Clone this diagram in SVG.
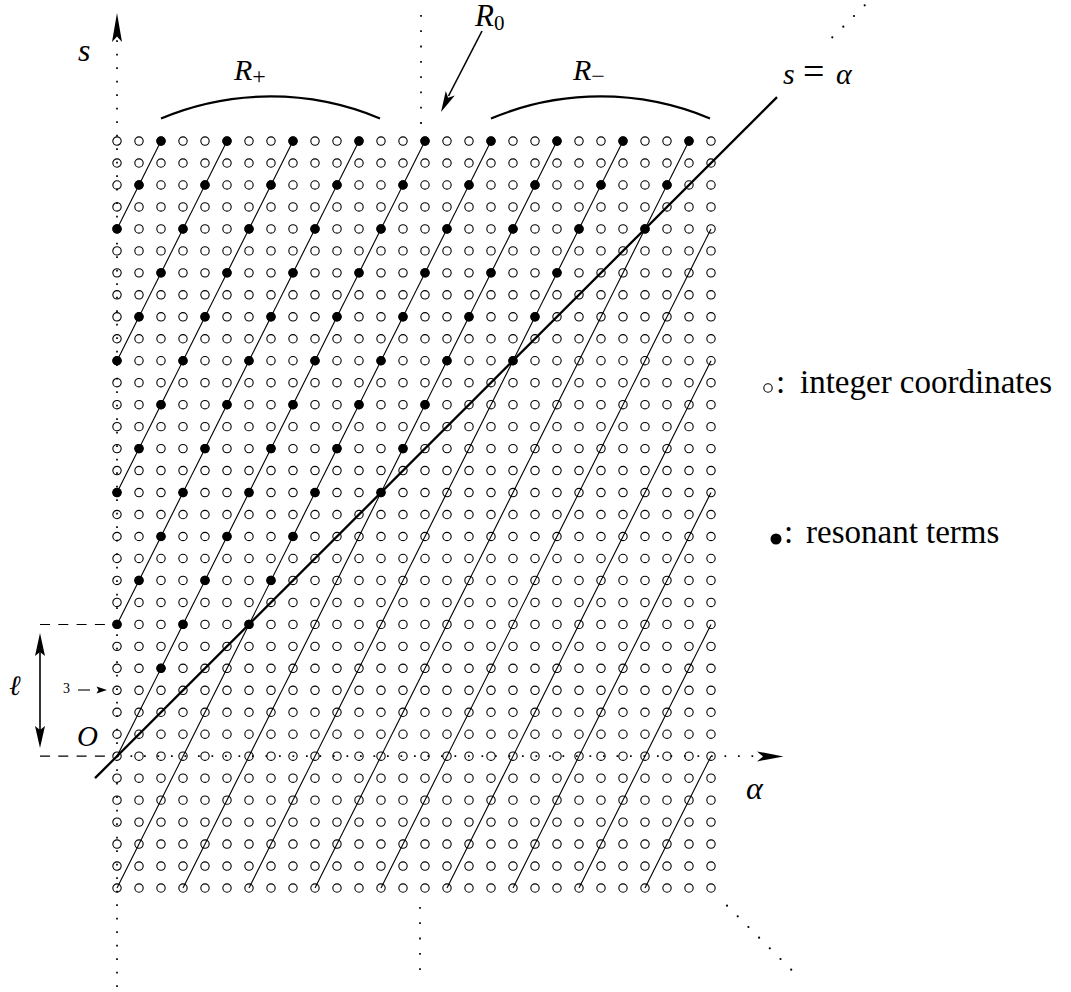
<svg xmlns="http://www.w3.org/2000/svg" xmlns:xlink="http://www.w3.org/1999/xlink" width="1071" height="992" viewBox="0 0 1071 992">
<style>
.c{fill:none;stroke:#000;stroke-width:1.1;vector-effect:non-scaling-stroke}
.f{fill:#000;stroke:none}
.thin{fill:none;stroke:#000;stroke-width:1.1;vector-effect:non-scaling-stroke}
.thick{fill:none;stroke:#000;stroke-width:2.3;vector-effect:non-scaling-stroke}
.dot{fill:none;stroke:#000;stroke-width:1.7;stroke-dasharray:1.7 11.8}
.dash{fill:none;stroke:#000;stroke-width:1.2;stroke-dasharray:10 8.3}
.line{fill:none;stroke:#000;stroke-width:1.6}
.arc{fill:none;stroke:#000;stroke-width:2.2}
.ah{fill:#000;stroke:none}
text{font-family:"Liberation Serif","DejaVu Serif",serif;fill:#000}
.i{font-style:italic}
</style>
<defs>
<g id="row">
<circle class="c" cx="0" cy="0" r="0.19"/><circle class="c" cx="1" cy="0" r="0.19"/><circle class="c" cx="2" cy="0" r="0.19"/><circle class="c" cx="3" cy="0" r="0.19"/><circle class="c" cx="4" cy="0" r="0.19"/><circle class="c" cx="5" cy="0" r="0.19"/><circle class="c" cx="6" cy="0" r="0.19"/><circle class="c" cx="7" cy="0" r="0.19"/><circle class="c" cx="8" cy="0" r="0.19"/><circle class="c" cx="9" cy="0" r="0.19"/><circle class="c" cx="10" cy="0" r="0.19"/><circle class="c" cx="11" cy="0" r="0.19"/><circle class="c" cx="12" cy="0" r="0.19"/><circle class="c" cx="13" cy="0" r="0.19"/><circle class="c" cx="14" cy="0" r="0.19"/><circle class="c" cx="15" cy="0" r="0.19"/><circle class="c" cx="16" cy="0" r="0.19"/><circle class="c" cx="17" cy="0" r="0.19"/><circle class="c" cx="18" cy="0" r="0.19"/><circle class="c" cx="19" cy="0" r="0.19"/><circle class="c" cx="20" cy="0" r="0.19"/><circle class="c" cx="21" cy="0" r="0.19"/><circle class="c" cx="22" cy="0" r="0.19"/><circle class="c" cx="23" cy="0" r="0.19"/><circle class="c" cx="24" cy="0" r="0.19"/><circle class="c" cx="25" cy="0" r="0.19"/><circle class="c" cx="26" cy="0" r="0.19"/><circle class="c" cx="27" cy="0" r="0.19"/>
</g>
</defs>

<g id="axes">
<line class="dot" x1="117" y1="987" x2="117" y2="40"/>
<path class="ah" d="M117,13 L122,42 L117,36.5 L112,42 Z"/>
<line class="dot" x1="117" y1="756.2" x2="760" y2="756.2"/>
<path class="ah" d="M783.5,756.4 L757,751.4 L763,756.4 L757,761.4 Z"/>
</g>

<g id="grid" transform="translate(117 756.2) scale(22 -21.97)">
<use xlink:href="#row" y="-6"/><use xlink:href="#row" y="-5"/><use xlink:href="#row" y="-4"/><use xlink:href="#row" y="-3"/><use xlink:href="#row" y="-2"/><use xlink:href="#row" y="-1"/><use xlink:href="#row" y="0"/><use xlink:href="#row" y="1"/><use xlink:href="#row" y="2"/><use xlink:href="#row" y="3"/><use xlink:href="#row" y="4"/><use xlink:href="#row" y="5"/><use xlink:href="#row" y="6"/><use xlink:href="#row" y="7"/><use xlink:href="#row" y="8"/><use xlink:href="#row" y="9"/><use xlink:href="#row" y="10"/><use xlink:href="#row" y="11"/><use xlink:href="#row" y="12"/><use xlink:href="#row" y="13"/><use xlink:href="#row" y="14"/><use xlink:href="#row" y="15"/><use xlink:href="#row" y="16"/><use xlink:href="#row" y="17"/><use xlink:href="#row" y="18"/><use xlink:href="#row" y="19"/><use xlink:href="#row" y="20"/><use xlink:href="#row" y="21"/><use xlink:href="#row" y="22"/><use xlink:href="#row" y="23"/><use xlink:href="#row" y="24"/><use xlink:href="#row" y="25"/><use xlink:href="#row" y="26"/><use xlink:href="#row" y="27"/><use xlink:href="#row" y="28"/>

<g id="connectors">
<line class="thin" x1="0" y1="24" x2="2" y2="28"/>
<line class="thin" x1="0" y1="18" x2="5" y2="28"/>
<line class="thin" x1="0" y1="12" x2="8" y2="28"/>
<line class="thin" x1="0" y1="6" x2="11" y2="28"/>
<line class="thin" x1="0" y1="0" x2="14" y2="28"/>
<line class="thin" x1="0" y1="-6" x2="17" y2="28"/>
<line class="thin" x1="3" y1="-6" x2="20" y2="28"/>
<line class="thin" x1="6" y1="-6" x2="23" y2="28"/>
<line class="thin" x1="9" y1="-6" x2="26" y2="28"/>
<line class="thin" x1="12" y1="-6" x2="27" y2="24"/>
<line class="thin" x1="15" y1="-6" x2="27" y2="18"/>
<line class="thin" x1="18" y1="-6" x2="27" y2="12"/>
<line class="thin" x1="21" y1="-6" x2="27" y2="6"/>
<line class="thin" x1="24" y1="-6" x2="27" y2="0"/>
<line class="thick" x1="-1" y1="-1" x2="30" y2="30"/>
</g>

<g id="resonant">
<g transform="translate(0 28)"><circle class="f" cx="2" cy="0" r="0.21"/><circle class="f" cx="5" cy="0" r="0.21"/><circle class="f" cx="8" cy="0" r="0.21"/><circle class="f" cx="11" cy="0" r="0.21"/><circle class="f" cx="14" cy="0" r="0.21"/><circle class="f" cx="17" cy="0" r="0.21"/><circle class="f" cx="20" cy="0" r="0.21"/><circle class="f" cx="23" cy="0" r="0.21"/><circle class="f" cx="26" cy="0" r="0.21"/></g>
<g transform="translate(0 26)"><circle class="f" cx="1" cy="0" r="0.21"/><circle class="f" cx="4" cy="0" r="0.21"/><circle class="f" cx="7" cy="0" r="0.21"/><circle class="f" cx="10" cy="0" r="0.21"/><circle class="f" cx="13" cy="0" r="0.21"/><circle class="f" cx="16" cy="0" r="0.21"/><circle class="f" cx="19" cy="0" r="0.21"/><circle class="f" cx="22" cy="0" r="0.21"/><circle class="f" cx="25" cy="0" r="0.21"/></g>
<g transform="translate(0 24)"><circle class="f" cx="0" cy="0" r="0.21"/><circle class="f" cx="3" cy="0" r="0.21"/><circle class="f" cx="6" cy="0" r="0.21"/><circle class="f" cx="9" cy="0" r="0.21"/><circle class="f" cx="12" cy="0" r="0.21"/><circle class="f" cx="15" cy="0" r="0.21"/><circle class="f" cx="18" cy="0" r="0.21"/><circle class="f" cx="21" cy="0" r="0.21"/><circle class="f" cx="24" cy="0" r="0.21"/></g>
<g transform="translate(0 22)"><circle class="f" cx="2" cy="0" r="0.21"/><circle class="f" cx="5" cy="0" r="0.21"/><circle class="f" cx="8" cy="0" r="0.21"/><circle class="f" cx="11" cy="0" r="0.21"/><circle class="f" cx="14" cy="0" r="0.21"/><circle class="f" cx="17" cy="0" r="0.21"/><circle class="f" cx="20" cy="0" r="0.21"/></g>
<g transform="translate(0 20)"><circle class="f" cx="1" cy="0" r="0.21"/><circle class="f" cx="4" cy="0" r="0.21"/><circle class="f" cx="7" cy="0" r="0.21"/><circle class="f" cx="10" cy="0" r="0.21"/><circle class="f" cx="13" cy="0" r="0.21"/><circle class="f" cx="16" cy="0" r="0.21"/><circle class="f" cx="19" cy="0" r="0.21"/></g>
<g transform="translate(0 18)"><circle class="f" cx="0" cy="0" r="0.21"/><circle class="f" cx="3" cy="0" r="0.21"/><circle class="f" cx="6" cy="0" r="0.21"/><circle class="f" cx="9" cy="0" r="0.21"/><circle class="f" cx="12" cy="0" r="0.21"/><circle class="f" cx="15" cy="0" r="0.21"/><circle class="f" cx="18" cy="0" r="0.21"/></g>
<g transform="translate(0 16)"><circle class="f" cx="2" cy="0" r="0.21"/><circle class="f" cx="5" cy="0" r="0.21"/><circle class="f" cx="8" cy="0" r="0.21"/><circle class="f" cx="11" cy="0" r="0.21"/><circle class="f" cx="14" cy="0" r="0.21"/></g>
<g transform="translate(0 14)"><circle class="f" cx="1" cy="0" r="0.21"/><circle class="f" cx="4" cy="0" r="0.21"/><circle class="f" cx="7" cy="0" r="0.21"/><circle class="f" cx="10" cy="0" r="0.21"/><circle class="f" cx="13" cy="0" r="0.21"/></g>
<g transform="translate(0 12)"><circle class="f" cx="0" cy="0" r="0.21"/><circle class="f" cx="3" cy="0" r="0.21"/><circle class="f" cx="6" cy="0" r="0.21"/><circle class="f" cx="9" cy="0" r="0.21"/><circle class="f" cx="12" cy="0" r="0.21"/></g>
<g transform="translate(0 10)"><circle class="f" cx="2" cy="0" r="0.21"/><circle class="f" cx="5" cy="0" r="0.21"/><circle class="f" cx="8" cy="0" r="0.21"/></g>
<g transform="translate(0 8)"><circle class="f" cx="1" cy="0" r="0.21"/><circle class="f" cx="4" cy="0" r="0.21"/><circle class="f" cx="7" cy="0" r="0.21"/></g>
<g transform="translate(0 6)"><circle class="f" cx="0" cy="0" r="0.21"/><circle class="f" cx="3" cy="0" r="0.21"/><circle class="f" cx="6" cy="0" r="0.21"/></g>
<g transform="translate(0 4)"><circle class="f" cx="2" cy="0" r="0.21"/></g>
</g>
</g>

<g id="region-marks">
<line class="dot" x1="421" y1="15" x2="421" y2="126" style="stroke-dasharray:1.8 13.5"/>
<line class="dot" x1="420" y1="907" x2="420" y2="972" style="stroke-dasharray:1.8 13.5"/>
<g class="f">
<circle cx="832.3" cy="37.3" r="1.1"/><circle cx="843.3" cy="26.7" r="1.1"/><circle cx="854" cy="16" r="1.1"/><circle cx="864.7" cy="5.3" r="1.1"/>
<circle cx="727" cy="905.7" r="1.1"/><circle cx="737.7" cy="916.3" r="1.1"/><circle cx="748.4" cy="927" r="1.1"/><circle cx="759.1" cy="937.7" r="1.1"/><circle cx="769.8" cy="948.3" r="1.1"/><circle cx="780.5" cy="959" r="1.1"/><circle cx="791.2" cy="969.7" r="1.1"/>
</g>
<path class="arc" d="M161,118.5 A283 283 0 0 1 380,118.5"/>
<path class="arc" d="M491,118.5 A283 283 0 0 1 710,118.5"/>
<line class="line" x1="482" y1="31" x2="448.5" y2="96"/>
<path class="ah" d="M441,112 L445.8,91 L448.1,97.7 L454.8,95.4 Z"/>
</g>

<g id="ell">
<line class="dash" x1="40" y1="624.5" x2="112" y2="624.5"/>
<line class="dash" x1="40" y1="756.2" x2="112" y2="756.2"/>
<line class="line" x1="40" y1="648" x2="40" y2="733"/>
<path class="ah" d="M40,633 L45,656 L40,652 L35,656 Z"/>
<path class="ah" d="M40,748 L45,726 L40,730 L35,726 Z"/>
<line class="line" x1="78" y1="690" x2="90" y2="690" style="stroke-width:1.1"/>
<path class="ah" d="M107,690 L96.5,686.5 L98.5,690 L96.5,693.5 Z"/>
</g>

<g id="labels">
<text class="i" x="78" y="61" font-size="32">s</text>
<text x="234" y="80" font-size="30"><tspan class="i">R</tspan><tspan font-size="24" dy="4">+</tspan></text>
<text x="573" y="80" font-size="30"><tspan class="i">R</tspan><tspan font-size="24" dy="4">−</tspan></text>
<text x="475" y="26" font-size="31"><tspan class="i">R</tspan><tspan font-size="21" dy="4">0</tspan></text>
<text class="i" x="783" y="84" font-size="30">s</text>
<text x="803" y="84" font-size="38">=</text>
<text class="i" x="836" y="84" font-size="30">α</text>
<text class="i" x="746" y="799" font-size="32">α</text>
<text class="i" x="77" y="746" font-size="29">O</text>
<text class="i" x="9" y="695" font-size="28">ℓ</text>
<text x="63" y="693" font-size="14">3</text>
</g>

<g id="legend">
<circle class="c" cx="768" cy="388" r="4.2"/>
<text x="776" y="393" font-size="33">:<tspan x="800">integer coordinates</tspan></text>
<circle class="f" cx="776" cy="539" r="5.5"/>
<text x="784" y="543" font-size="33">:<tspan x="806">resonant terms</tspan></text>
</g>
</svg>
